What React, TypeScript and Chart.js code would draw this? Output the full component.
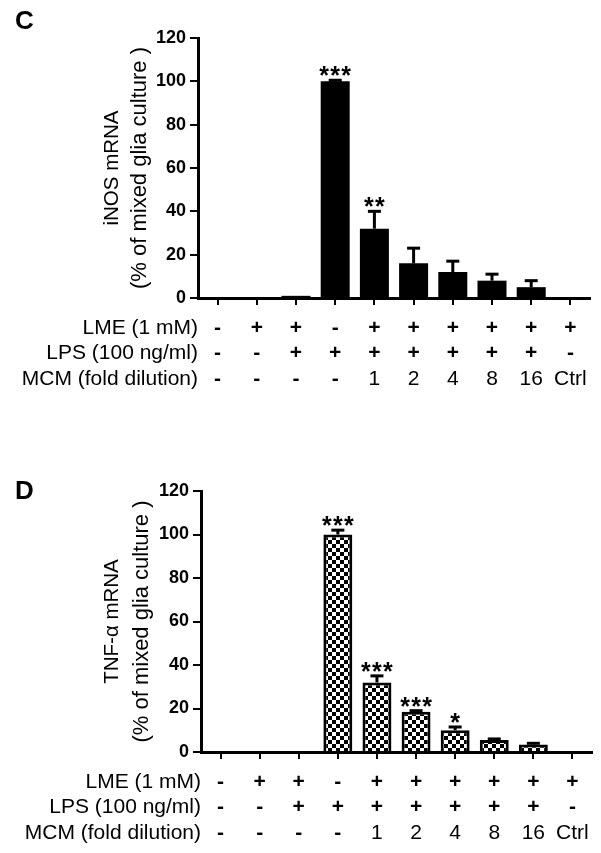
import React, { useEffect, useRef } from 'react';
import { Chart, registerables } from 'chart.js';

Chart.register(...registerables);

const categories = ['g1', 'g2', 'g3', 'g4', 'g5', 'g6', 'g7', 'g8', 'g9', 'g10'];
const lmeRow = ['-', '+', '+', '-', '+', '+', '+', '+', '+', '+'];
const lpsRow = ['-', '-', '+', '+', '+', '+', '+', '+', '+', '-'];
const mcmRow = ['-', '-', '-', '-', '1', '2', '4', '8', '16', 'Ctrl'];
const rowLabels = ['LME (1 mM)', 'LPS (100 ng/ml)', 'MCM (fold dilution)'];
const yMin = 0;
const yMax = 120;
const yStep = 20;

const inosValues = [0, 0, 1, 100, 32, 16, 12, 8, 5, 0];
const inosErrors = [0, 0, 0, 0.5, 8, 7, 5, 3, 3, 0];
const inosStars = ['', '', '', '***', '**', '', '', '', '', ''];
const inosTitle = ['iNOS mRNA', '(% of mixed glia culture )'];

const tnfValues = [0, 0, 0.5, 100, 32, 18.5, 10, 5.5, 3.5, 0];
const tnfErrors = [0, 0, 0, 2, 3, 0.5, 1.5, 0.5, 0.5, 0];
const tnfStars = ['', '', '', '***', '***', '***', '*', '', '', ''];
const tnfTitle = ['TNF-\u03b1 mRNA', '(% of mixed glia culture )'];

const FONT = '"Liberation Sans", Arial, Helvetica, sans-serif';
const W = 601;

type Area = { left: number; top: number; right: number; bottom: number };

interface PanelProps {
  top: number;
  height: number;
  letter: string;
  letterBaseline: number;
  area: Area;
  titleX: number[];
  titleLines: string[];
  values: number[];
  errors: number[];
  stars: string[];
  checker: boolean;
}

function Panel(props: PanelProps) {
  const ref = useRef<HTMLCanvasElement | null>(null);
  useEffect(() => {
    const canvas = ref.current;
    if (!canvas) return;
    const ctx = canvas.getContext('2d')!;
    let fill: any = '#000';
    if (props.checker) {
      const pc = document.createElement('canvas');
      pc.width = 8;
      pc.height = 8;
      const g = pc.getContext('2d')!;
      g.fillStyle = '#fff';
      g.fillRect(0, 0, 8, 8);
      g.fillStyle = '#000';
      g.fillRect(0, 0, 4, 4);
      g.fillRect(4, 4, 4, 4);
      fill = ctx.createPattern(pc, 'repeat');
    }
    const { area, height } = props;

    const extras = {
      id: 'extras',
      afterDatasetsDraw(chart: any) {
        const c = chart.ctx;
        const xs = chart.scales.x;
        const ys = chart.scales.y;
        c.save();
        c.strokeStyle = '#000';
        c.fillStyle = '#000';
        props.values.forEach((v, i) => {
          const e = props.errors[i];
          const x = xs.getPixelForValue(i);
          const yBar = ys.getPixelForValue(v);
          const yTop = ys.getPixelForValue(v + e);
          if (e > 0) {
            c.lineWidth = 3;
            c.beginPath();
            c.moveTo(x, yBar);
            c.lineTo(x, yTop);
            c.stroke();
            c.fillRect(x - 6.5, yTop - 1.5, 13, 3);
          }
          const s = props.stars[i];
          if (s) {
            const size = 25;
            c.font = `bold ${size}px ${FONT}`;
            c.textAlign = 'center';
            c.textBaseline = 'alphabetic';
            const m = c.measureText('*');
            const asc = m.actualBoundingBoxAscent;
            const desc = m.actualBoundingBoxDescent;
            const cy = yTop - 9;
            const base = cy + (asc - desc) / 2;
            const spacing = 11;
            const n = s.length;
            for (let k = 0; k < n; k++) {
              const sx = x + (k - (n - 1) / 2) * spacing;
              c.fillText('*', sx, base);
            }
          }
        });
        c.restore();
      },
      afterDraw(chart: any) {
        const c = chart.ctx;
        const xs = chart.scales.x;
        const ca = chart.chartArea;
        c.save();
        c.fillStyle = '#000';
        // panel letter
        c.font = `bold 26px ${FONT}`;
        c.textAlign = 'left';
        c.textBaseline = 'alphabetic';
        c.fillText(props.letter, 15, props.letterBaseline);
        // y title
        c.textAlign = 'center';
        c.textBaseline = 'middle';
        const cy = (ca.top + ca.bottom) / 2;
        const sizes = [20.5, 22];
        props.titleLines.forEach((t, k) => {
          c.save();
          c.font = `${sizes[k]}px ${FONT}`;
          c.translate(props.titleX[k], cy);
          c.rotate(-Math.PI / 2);
          c.fillText(t, 0, 0);
          c.restore();
        });
        // table
        const rows = [lmeRow, lpsRow, mcmRow];
        const offs = [30, 55, 81];
        rows.forEach((row, r) => {
          const y = ca.bottom + offs[r];
          c.font = `21px ${FONT}`;
          c.textAlign = 'right';
          c.fillText(rowLabels[r], ca.left, y);
          c.textAlign = 'center';
          row.forEach((t, i) => {
            const x = xs.getPixelForValue(i);
            if (t === '+' || t === '-') c.font = `bold 21px ${FONT}`;
            else c.font = `21px ${FONT}`;
            c.fillText(t, x, y);
          });
        });
        c.restore();
      },
    };

    const chart = new Chart(canvas, {
      type: 'bar',
      data: {
        labels: categories,
        datasets: [
          {
            data: props.values,
            backgroundColor: fill,
            borderColor: '#000',
            borderWidth: props.checker ? 3 : 0,
            barPercentage: 0.74,
            categoryPercentage: 1,
          },
        ],
      },
      options: {
        responsive: false,
        animation: false,
        devicePixelRatio: 1,
        layout: { padding: { top: area.top, right: W - area.right, left: 0, bottom: 0 } },
        plugins: { legend: { display: false }, tooltip: { enabled: false } },
        scales: {
          x: {
            type: 'category',
            offset: true,
            grid: {
              offset: false,
              drawOnChartArea: false,
              drawTicks: true,
              tickLength: 7,
              color: '#000',
              lineWidth: 2,
            },
            border: { display: true, color: '#000', width: 3 },
            ticks: { display: false },
            afterFit: (s: any) => {
              s.height = height - area.bottom;
            },
          },
          y: {
            min: yMin,
            max: yMax,
            ticks: {
              stepSize: yStep,
              color: '#000',
              padding: 4,
              font: { family: FONT, size: 18, weight: 'bold' },
            },
            grid: {
              drawOnChartArea: false,
              drawTicks: true,
              tickLength: 8,
              color: '#000',
              lineWidth: 2,
            },
            border: { display: true, color: '#000', width: 3 },
            afterFit: (s: any) => {
              s.width = area.left;
            },
          },
        },
      } as any,
      plugins: [extras as any],
    });
    return () => chart.destroy();
  }, []);

  return (
    <canvas
      ref={ref}
      width={W}
      height={props.height}
      style={{ position: 'absolute', left: 0, top: props.top, display: 'block' }}
    />
  );
}

export default function App() {
  return (
    <div style={{ position: 'absolute', left: 0, top: 0, width: W, height: 853, background: '#fff' }}>
      <Panel
        top={0}
        height={420}
        letter="C"
        letterBaseline={29}
        area={{ left: 198, top: 38, right: 590, bottom: 298 }}
        titleX={[112, 140]}
        titleLines={inosTitle}
        values={inosValues}
        errors={inosErrors}
        stars={inosStars}
        checker={false}
      />
      <Panel
        top={420}
        height={433}
        letter="D"
        letterBaseline={79}
        area={{ left: 201, top: 71, right: 592, bottom: 332 }}
        titleX={[112, 142]}
        titleLines={tnfTitle}
        values={tnfValues}
        errors={tnfErrors}
        stars={tnfStars}
        checker={true}
      />
    </div>
  );
}
